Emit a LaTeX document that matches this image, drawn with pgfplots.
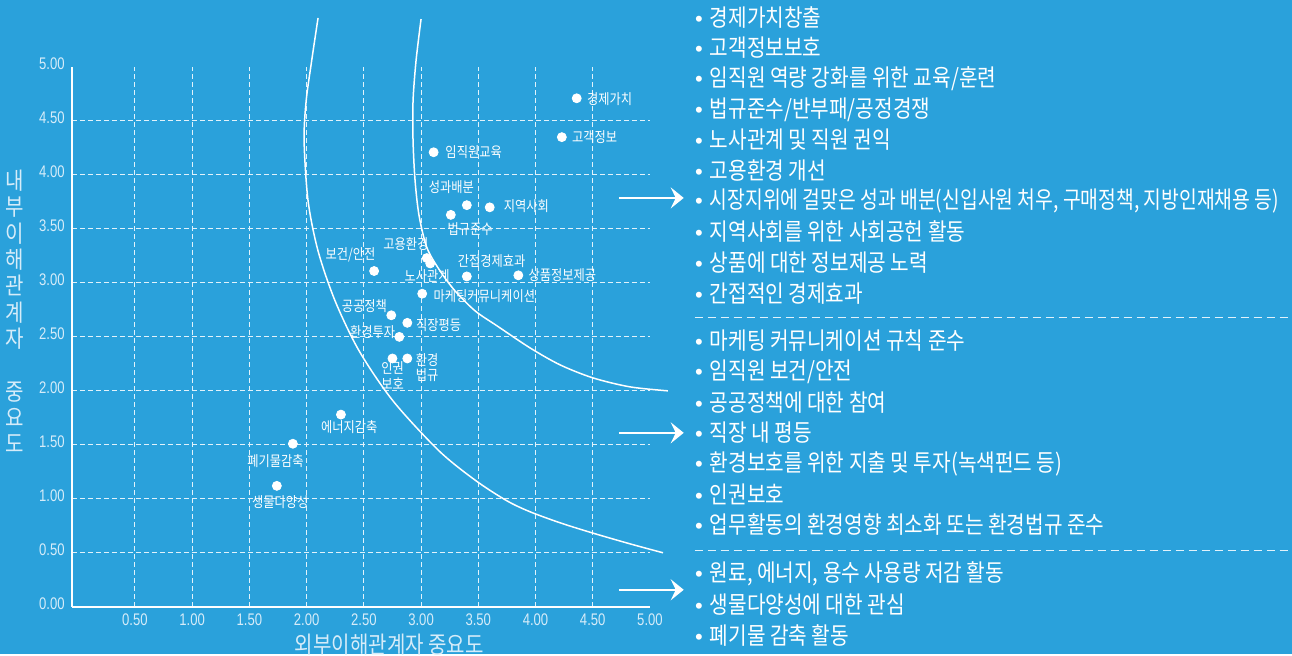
\documentclass[border=0pt]{standalone}
\usepackage{fontspec}
\usepackage{graphicx}
\usepackage{pgfplots}
\pgfplotsset{compat=1.18}
\usetikzlibrary{arrows.meta}
\setmainfont{Noto Sans CJK KR}[FakeStretch=0.85]
\newfontfamily\numfont{Liberation Sans}[FakeStretch=0.78]
\newfontfamily\bulfont{Liberation Sans}
\definecolor{bg}{RGB}{42,161,219}
\definecolor{ticktext}{RGB}{214,236,249}
\definecolor{gridc}{RGB}{225,242,251}
\newcommand{\bul}{{\bulfont\fontsize{11}{12}\selectfont •}\hspace{3.5pt}}

\begin{document}
\begin{tikzpicture}
\begin{scope}[x=0.5pt,y=-0.5pt]
  \fill[bg] (0,0) rectangle (1292,654);
  \useasboundingbox (0,0) rectangle (1292,654);
\end{scope}

\begin{axis}[
  at={(36pt,-303.5pt)}, anchor=south west,
  x=57.25pt, y=54pt,
  xmin=-0.05, xmax=5, ymin=0, ymax=5,
  clip=false,
  axis lines=left,
  axis line style={-, white, line width=1pt},
  major tick length=0pt,
  xtick={0.5,1,...,4.5},
  xticklabels={0.50,1.00,1.50,2.00,2.50,3.00,3.50,4.00,4.50},
  extra x ticks={5}, extra x tick labels={5.00},
  ytick={0,0.5,...,4.5},
  yticklabels={0.00,0.50,1.00,1.50,2.00,2.50,3.00,3.50,4.00,4.50},
  extra y ticks={5}, extra y tick labels={5.00},
  extra tick style={grid=none},
  grid=major,
  major grid style={gridc, line width=0.5pt, dash pattern=on 2.5pt off 1.5pt},
  every tick label/.append style={inner sep=0pt, text=ticktext,
    font=\numfont\fontsize{8.4}{9}\selectfont},
  xticklabel style={anchor=north, yshift=-3.5pt},
  yticklabel style={anchor=east, xshift=-3.5pt, yshift=1.5pt},
]
  % boundary curves
  \addplot[white, line width=0.75pt, smooth] coordinates {
    (2.100,5.454) (2.044,5.056) (1.996,4.685) (1.978,4.315) (2.013,3.759)
    (2.100,3.296) (2.249,2.833) (2.459,2.370) (2.755,1.907) (3.157,1.444)
    (3.480,1.167) (3.751,0.981) (3.952,0.880) (4.214,0.778) (4.493,0.685)
    (4.825,0.583) (5.114,0.500)};
  \addplot[white, line width=0.75pt, smooth] coordinates {
    (3.000,5.444) (2.956,5.056) (2.930,4.685) (2.930,4.315) (2.948,3.944)
    (2.983,3.620) (3.052,3.324) (3.166,3.111) (3.297,2.926) (3.472,2.741)
    (3.664,2.602) (3.952,2.398) (4.214,2.241) (4.502,2.120) (4.825,2.037)
    (5.157,2.000)};

  % issues
  \addplot[only marks, mark=*, mark size=2.25pt, white] coordinates {
    (4.36,4.71) (4.23,4.35) (3.11,4.21) (3.40,3.72) (3.60,3.70)
    (3.26,3.63) (3.05,3.23) (3.08,3.18) (2.59,3.11) (3.40,3.06)
    (3.85,3.07) (3.01,2.90) (2.74,2.70) (2.88,2.63) (2.81,2.50)
    (2.75,2.30) (2.88,2.30) (2.30,1.78) (1.88,1.51) (1.74,1.12)};

  \begin{scope}[every node/.style={inner sep=0pt, text=white,
      font=\fontsize{7.2}{7.85}\selectfont, align=center}]
    \node[anchor=west] at (axis cs:4.447,4.707) {경제가치};
    \node[anchor=west] at (axis cs:4.316,4.355) {고객정보};
    \node[anchor=west] at (axis cs:3.210,4.213) {임직원교육};
    \node[anchor=west] at (axis cs:3.719,3.713) {지역사회};
    \node[anchor=west] at (axis cs:3.937,3.074) {상품정보제공};
    \node[anchor=west] at (axis cs:3.107,2.880) {마케팅커뮤니케이션};
    \node[anchor=west] at (axis cs:2.954,2.611) {직장평등};
    \node at (axis cs:3.264,3.883) {성과배분};
    \node at (axis cs:3.428,3.497) {법규준수};
    \node at (axis cs:2.868,3.364) {고용환경};
    \node at (axis cs:2.384,3.259) {보건/안전};
    \node at (axis cs:3.054,3.065) {노사관계};
    \node at (axis cs:3.617,3.204) {간접경제효과};
    \node at (axis cs:2.504,2.787) {공공정책};
    \node at (axis cs:2.576,2.540) {환경투자};
    \node at (axis cs:2.751,2.139) {인권\\보호};
    \node at (axis cs:3.052,2.216) {환경\\법규};
    \node at (axis cs:2.373,1.660) {에너지감축};
    \node at (axis cs:1.728,1.352) {폐기물감축};
    \node at (axis cs:1.769,0.966) {생물다양성};
  \end{scope}
\end{axis}

\begin{scope}[x=0.5pt,y=-0.5pt]
  % axis titles
  \node[inner sep=0pt, text=ticktext, font=\fontsize{11.8}{12}\selectfont]
    at (389.5,645) {외부이해관계자 중요도};
  \node[inner sep=0pt, text=ticktext, align=center,
    font=\fontsize{11.8}{13.15}\selectfont]
    at (15,311.5) {내\\부\\이\\해\\관\\계\\자\\\mbox{}\\중\\요\\도};

  % arrows
  \foreach \yy in {198,433,590}
    \draw[white, line width=1pt, -{Stealth[length=6.5pt, width=10.5pt, inset=2.5pt]}]
      (619,\yy) -- (684,\yy);

  % separators
  \draw[gridc, line width=0.5pt, dash pattern=on 4pt off 2.5pt] (695,318) -- (1292,318);
  \draw[gridc, line width=0.5pt, dash pattern=on 4pt off 2.5pt] (695,551) -- (1292,551);

  % issue list
  \begin{scope}[every node/.style={anchor=west, inner sep=0pt, text=white,
      font=\fontsize{11.9}{12}\selectfont}]
    \node at (695,18)  {\bul 경제가치창출};
    \node at (695,48)  {\bul 고객정보보호};
    \node at (695,79)  {\bul 임직원 역량 강화를 위한 교육/훈련};
    \node at (695,110) {\bul 법규준수/반부패/공정경쟁};
    \node at (695,140) {\bul 노사관계 및 직원 권익};
    \node at (695,171) {\bul 고용환경 개선};
    \node at (695,201) {\bul \scalebox{0.955}[1]{시장지위에 걸맞은 성과 배분(신입사원 처우, 구매정책, 지방인재채용 등)}};
    \node at (695,232) {\bul 지역사회를 위한 사회공헌 활동};
    \node at (695,263) {\bul 상품에 대한 정보제공 노력};
    \node at (695,294) {\bul 간접적인 경제효과};
    \node at (695,341) {\bul 마케팅 커뮤니케이션 규칙 준수};
    \node at (695,372) {\bul 임직원 보건/안전};
    \node at (695,403) {\bul 공공정책에 대한 참여};
    \node at (695,433) {\bul 직장 내 평등};
    \node at (695,464) {\bul 환경보호를 위한 지출 및 투자(녹색펀드 등)};
    \node at (695,495) {\bul 인권보호};
    \node at (695,525) {\bul 업무활동의 환경영향 최소화 또는 환경법규 준수};
    \node at (695,574) {\bul 원료, 에너지, 용수 사용량 저감 활동};
    \node at (695,605) {\bul 생물다양성에 대한 관심};
    \node at (695,636) {\bul 폐기물 감축 활동};
  \end{scope}
\end{scope}
\end{tikzpicture}
\end{document}
